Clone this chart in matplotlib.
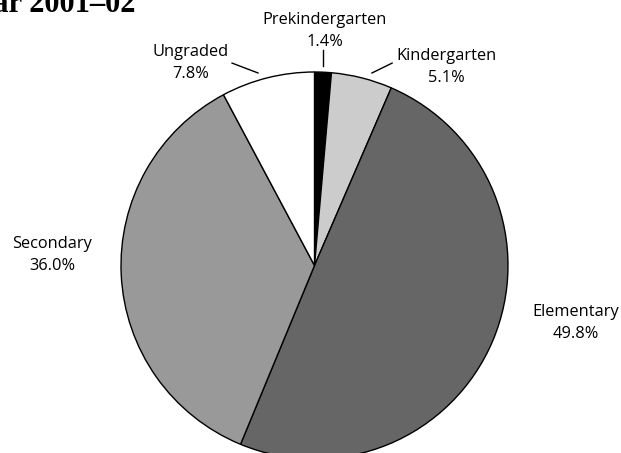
import numpy as np
import matplotlib
matplotlib.use("Agg")
import matplotlib.pyplot as plt

categories = ["Prekindergarten", "Kindergarten", "Elementary", "Secondary", "Ungraded"]
values = [1.4, 5.1, 49.8, 36.0, 7.8]
labels = ["Prekindergarten\n1.4%", "Kindergarten\n5.1%", "Elementary\n49.8%",
          "Secondary\n36.0%", "Ungraded\n7.8%"]
colors = ["#000000", "#cccccc", "#666666", "#999999", "#ffffff"]

W, H = 621, 453
fig = plt.figure(figsize=(W / 100, H / 100), dpi=100)
cx, cy, R = 314.5, 265.5, 193.5
ax = fig.add_axes([(cx - R) / W, (H - cy - R) / H, 2 * R / W, 2 * R / H])

wedges, _ = ax.pie(values, colors=colors, startangle=90, counterclock=False,
                   radius=1.0, center=(0, 0), normalize=True,
                   wedgeprops=dict(edgecolor="black", linewidth=1.0))
ax.set_xlim(-1, 1)
ax.set_ylim(-1, 1)
ax.set_aspect("equal")
ax.axis("off")
for w in wedges:
    w.set_clip_on(False)

# label positions (data coords) and leader line end points
label_pos = {
    "Prekindergarten": (0.054, 1.212),
    "Kindergarten": (0.68, 1.026),
    "Elementary": (1.348, -0.295),
    "Secondary": (-1.357, 0.054),
    "Ungraded": (-0.638, 1.047),
}
leaders = {
    "Prekindergarten": ((0.044, 1.031), (0.044, 1.114)),
    "Kindergarten": ((0.297, 0.995), (0.401, 1.046)),
    "Ungraded": ((-0.292, 0.995), (-0.426, 1.046)),
}

font = "Open Sans"
for cat, lab in zip(categories, labels):
    x, y = label_pos[cat]
    ax.text(x, y, lab, ha="center", va="center", fontsize=11.8, family=font,
            linespacing=1.5, clip_on=False)
    if cat in leaders:
        (x0, y0), (x1, y1) = leaders[cat]
        ax.plot([x0, x1], [y0, y1], color="black", lw=1.0, clip_on=False)

fig.text(135 / W, 1 - 11.5 / H, "Year 2001\u201302", ha="right", va="baseline",
         fontsize=22, family="Liberation Serif", fontweight="bold")

fig.savefig("out.png", dpi=100)
